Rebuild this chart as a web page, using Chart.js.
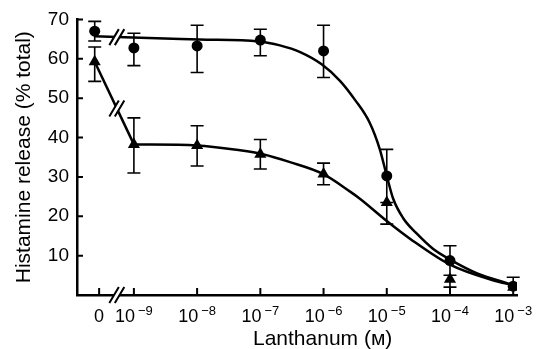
<!DOCTYPE html>
<html>
<head>
<meta charset="utf-8">
<script src="https://cdn.jsdelivr.net/npm/chart.js@4.4.1/dist/chart.umd.min.js"></script>
<style>
  html, body { margin: 0; padding: 0; background: #fff; }
  #wrap { width: 551px; height: 349px; }
</style>
</head>
<body>
<div id="wrap"><canvas id="chart"></canvas></div>
<script>
// x is log10 of lanthanum (M); the "0" dose is drawn left of the axis break
const doseLog = [-9.62, -9, -8, -7, -6, -5, -4, -3];
const xTickValues = [-9.55, -9, -8, -7, -6, -5, -4, -3];
const xTickBase = ['0', '10', '10', '10', '10', '10', '10', '10'];
const xTickExp = ['', '−9', '−8', '−7', '−6', '−5', '−4', '−3'];
const xTitle = 'Lanthanum (ᴍ)';
const yTitle = 'Histamine release (% total)';
const breakAt = -9.27;

// circles
const circleMean = [67, 62.75, 63.25, 64.75, 62, 30.25, 8.75, 2.25];
const circleErrUp = [2.5, 3.75, 5.25, 2.75, 6.5, 6.75, 3.75, 2.25];
const circleErrDown = [2.5, 4.5, 6.75, 4, 6.75, 6.75, 3.75, 0];

// triangles
const triMean = [59.25, 38.25, 38, 35.75, 30.75, 23.5, 4, 2];
const triErrUp = [3.75, 6.75, 5, 3.75, 2.75, 0, 0, 0];
const triErrDown = [5, 7.25, 5.25, 3.75, 2.75, 5.5, 2, 0];

// hand drawn curves
const circleCurveX = [-9.62, -9.27, -7.96, -7.02, -6.69, -6.37, -6.03, -5.74, -5.5, -5.27, -5.11, -5.0, -4.9, -4.74, -4.52, -4.27, -3.97, -3.57, -3.1, -3.0];
const circleCurveY = [65.75, 65.5, 64.9, 64.4, 63.4, 61.7, 58.6, 54.4, 49.5, 43.75, 37, 30.25, 24.5, 19.5, 15.5, 11.75, 8.75, 5.5, 3, 2.5];
const triLineX = [-9.62, -9];
const triLineY = [59.25, 38.25];
const triCurveX = [-9, -8, -7.32, -6.96, -6.53, -6.01, -5.58, -5.42, -5.0, -4.59, -4.0, -3.32, -3.0];
const triCurveY = [38.25, 38, 36.75, 35.75, 33.75, 30.75, 26.25, 24.4, 18.8, 13.8, 7.7, 3.75, 2.5];

const fontFamily = 'Liberation Sans, Arial, sans-serif';

function pts(xs, ys) {
  return xs.map((x, i) => ({ x: x, y: ys[i] }));
}

function valueAt(xs, ys, v) {
  for (let i = 1; i < xs.length; i++) {
    if (v <= xs[i]) {
      const t = (v - xs[i - 1]) / (xs[i] - xs[i - 1]);
      return ys[i - 1] + t * (ys[i] - ys[i - 1]);
    }
  }
  return ys[ys.length - 1];
}

const errorBars = [
  { mean: circleMean, up: circleErrUp, down: circleErrDown },
  { mean: triMean, up: triErrUp, down: triErrDown }
];

const errorBarPlugin = {
  id: 'errorBars',
  beforeDatasetsDraw(chart) {
    const { ctx, scales: { x, y } } = chart;
    ctx.save();
    ctx.strokeStyle = '#000';
    ctx.lineWidth = 1.6;
    errorBars.forEach(set => {
      set.mean.forEach((m, i) => {
        const px = x.getPixelForValue(doseLog[i]);
        const ends = [];
        if (set.up[i] > 0) ends.push(y.getPixelForValue(m + set.up[i]));
        if (set.down[i] > 0) ends.push(y.getPixelForValue(m - set.down[i]));
        ends.forEach(py => {
          ctx.beginPath();
          ctx.moveTo(px, y.getPixelForValue(m));
          ctx.lineTo(px, py);
          ctx.moveTo(px - 6.5, py);
          ctx.lineTo(px + 6.5, py);
          ctx.stroke();
        });
      });
    });
    ctx.restore();
  }
};

function drawBreak(ctx, px, py) {
  ctx.save();
  ctx.fillStyle = '#fff';
  ctx.beginPath();
  ctx.moveTo(px - 7.5, py + 8);
  ctx.lineTo(px + 2, py - 8);
  ctx.lineTo(px + 7.5, py - 8);
  ctx.lineTo(px - 2, py + 8);
  ctx.closePath();
  ctx.fill();
  ctx.strokeStyle = '#000';
  ctx.lineWidth = 2;
  ctx.beginPath();
  ctx.moveTo(px - 7.5, py + 8);
  ctx.lineTo(px + 2, py - 8);
  ctx.moveTo(px - 2, py + 8);
  ctx.lineTo(px + 7.5, py - 8);
  ctx.stroke();
  ctx.restore();
}

const axisDecorPlugin = {
  id: 'axisDecor',
  afterDraw(chart) {
    const { ctx, chartArea, scales: { x, y } } = chart;
    ctx.save();
    ctx.strokeStyle = '#000';
    ctx.lineWidth = 2;
    ctx.beginPath();
    for (let v = 10; v <= 70; v += 10) {
      const py = y.getPixelForValue(v);
      ctx.moveTo(chartArea.left, py);
      ctx.lineTo(chartArea.left + 6, py);
    }
    xTickValues.forEach(v => {
      const px = x.getPixelForValue(v);
      ctx.moveTo(px, chartArea.bottom);
      ctx.lineTo(px, chartArea.bottom - 7);
    });
    ctx.stroke();

    // x tick labels: "10" with a raised exponent
    ctx.fillStyle = '#000';
    ctx.textBaseline = 'alphabetic';
    ctx.textAlign = 'left';
    xTickValues.forEach((v, i) => {
      const px = x.getPixelForValue(v);
      ctx.font = '18px ' + fontFamily;
      const wb = ctx.measureText(xTickBase[i]).width;
      ctx.font = '13px ' + fontFamily;
      const we = xTickExp[i] ? ctx.measureText(xTickExp[i]).width + 3 : 0;
      const left = px - (wb + we) / 2;
      ctx.font = '18px ' + fontFamily;
      ctx.fillText(xTickBase[i], left, chartArea.bottom + 27);
      if (xTickExp[i]) {
        ctx.font = '13px ' + fontFamily;
        ctx.fillText(xTickExp[i], left + wb + 3, chartArea.bottom + 20);
      }
    });

    // x axis title
    ctx.font = '21px ' + fontFamily;
    ctx.textAlign = 'left';
    ctx.fillText(xTitle, 253, chartArea.bottom + 50);
    ctx.restore();

    const bx = x.getPixelForValue(breakAt);
    drawBreak(ctx, bx, chartArea.bottom);
    drawBreak(ctx, bx, y.getPixelForValue(valueAt(circleCurveX, circleCurveY, breakAt)));
    drawBreak(ctx, bx, y.getPixelForValue(valueAt(triLineX, triLineY, breakAt)));
  }
};

const curveStyle = {
  showLine: true,
  borderColor: '#000',
  borderWidth: 2.5,
  pointRadius: 0,
  fill: false
};

new Chart(document.getElementById('chart'), {
  type: 'scatter',
  data: {
    datasets: [
      {
        label: 'circles',
        data: pts(doseLog, circleMean),
        pointStyle: 'circle',
        pointRadius: 5.5,
        backgroundColor: '#000',
        borderColor: '#000',
        borderWidth: 0
      },
      {
        label: 'triangles',
        data: pts(doseLog, triMean),
        pointStyle: 'triangle',
        pointRadius: 7,
        backgroundColor: '#000',
        borderColor: '#000',
        borderWidth: 0
      },
      Object.assign({ label: 'circle curve', data: pts(circleCurveX, circleCurveY), cubicInterpolationMode: 'monotone' }, curveStyle),
      Object.assign({ label: 'triangle line', data: pts(triLineX, triLineY), tension: 0 }, curveStyle),
      Object.assign({ label: 'triangle curve', data: pts(triCurveX, triCurveY), cubicInterpolationMode: 'monotone' }, curveStyle)
    ]
  },
  options: {
    responsive: true,
    maintainAspectRatio: false,
    animation: false,
    layout: { padding: { top: 15, right: 34, left: 0, bottom: 0 } },
    plugins: {
      legend: { display: false },
      tooltip: { enabled: false }
    },
    scales: {
      x: {
        type: 'linear',
        min: -9.9,
        max: -2.94,
        afterFit: s => { s.height = 54; },
        afterBuildTicks: s => { s.ticks = xTickValues.map(v => ({ value: v })); },
        grid: { display: true, drawOnChartArea: false, drawTicks: false },
        border: { display: true, color: '#000', width: 2.5 },
        ticks: { display: false }
      },
      y: {
        min: 0,
        max: 70,
        afterFit: s => { s.width = 77; },
        grid: { display: true, drawOnChartArea: false, drawTicks: false },
        border: { display: true, color: '#000', width: 2.5 },
        ticks: {
          stepSize: 10,
          padding: 8,
          color: '#000',
          font: { family: fontFamily, size: 19 },
          callback: v => (v === 0 ? '' : v)
        },
        title: {
          display: true,
          text: yTitle,
          color: '#000',
          font: { family: fontFamily, size: 21 },
          padding: { top: 12, bottom: 0 }
        }
      }
    }
  },
  plugins: [errorBarPlugin, axisDecorPlugin]
});
</script>
</body>
</html>
